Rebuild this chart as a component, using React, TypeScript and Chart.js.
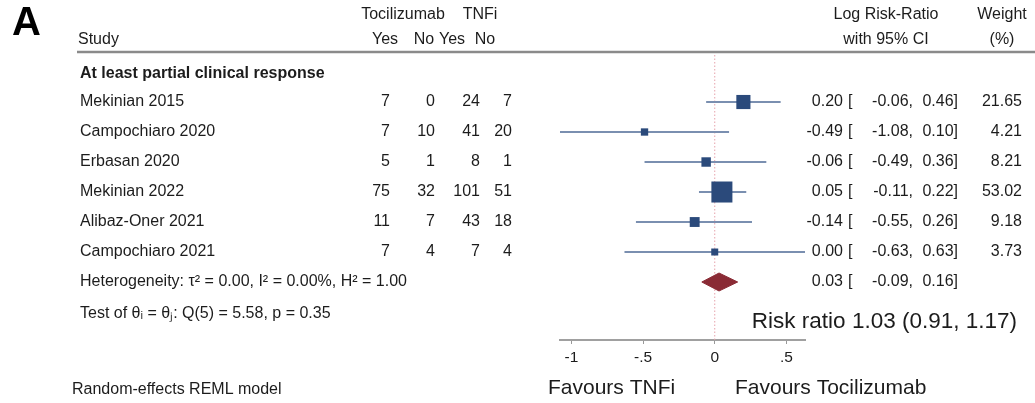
import React, { useEffect, useRef } from 'react';
import { Chart, registerables } from 'chart.js';

Chart.register(...registerables);

// ---------- data ----------
const studies = ['Mekinian 2015', 'Campochiaro 2020', 'Erbasan 2020', 'Mekinian 2022', 'Alibaz-Oner 2021', 'Campochiaro 2021'];
const tociYes = [7, 7, 5, 75, 11, 7];
const tociNo = [0, 10, 1, 32, 7, 4];
const tnfYes = [24, 41, 8, 101, 43, 7];
const tnfNo = [7, 20, 1, 51, 18, 4];
const logRR = [0.2, -0.49, -0.06, 0.05, -0.14, 0.0];
const lowerCI = [-0.06, -1.08, -0.49, -0.11, -0.55, -0.63];
const upperCI = [0.46, 0.1, 0.36, 0.22, 0.26, 0.63];
const weights = [21.65, 4.21, 8.21, 53.02, 9.18, 3.73];
const overall = { est: 0.03, lo: -0.09, hi: 0.16 };
const overallRR = { est: 1.03, lo: 0.91, hi: 1.17 };
const xTickValues = [-1, -0.5, 0, 0.5];
const xTickLabels = ['-1', '-.5', '0', '.5'];
const nullValue = 0;

const FONT = '"Liberation Sans", Arial, Helvetica, sans-serif';
const TEXT = '#1c1c1c';
const BODY = 16;
const overallRow = studies.length;

const fmt = (v: number) => v.toFixed(2);

const textPlugin = {
  id: 'forestText',
  beforeDatasetsDraw(chart: any) {
    const { ctx, chartArea, scales } = chart;
    const xp = scales.x.getPixelForValue(nullValue);
    ctx.save();
    ctx.strokeStyle = '#e6a2ac';
    ctx.lineWidth = 1;
    ctx.setLineDash([1.5, 2]);
    ctx.beginPath();
    ctx.moveTo(xp, chartArea.top);
    ctx.lineTo(xp, chartArea.bottom);
    ctx.stroke();
    ctx.restore();
  },
  afterDraw(chart: any) {
    const { ctx, scales } = chart;
    const y = scales.y;
    ctx.save();
    ctx.fillStyle = TEXT;
    ctx.textBaseline = 'middle';

    // Panel letter
    ctx.font = `bold 40px ${FONT}`;
    ctx.fillStyle = '#000';
    ctx.textAlign = 'left';
    ctx.fillText('A', 12, 24);
    ctx.fillStyle = TEXT;

    // Headers
    ctx.font = `${BODY}px ${FONT}`;
    ctx.textAlign = 'center';
    ctx.fillText('Tocilizumab', 403, 15);
    ctx.fillText('TNFi', 480, 15);
    ctx.fillText('Yes', 385, 40);
    ctx.fillText('No', 424, 40);
    ctx.fillText('Yes', 452, 40);
    ctx.fillText('No', 485, 40);
    ctx.fillText('Log Risk-Ratio', 886, 15);
    ctx.fillText('with 95% CI', 886, 40);
    ctx.fillText('Weight', 1002, 15);
    ctx.fillText('(%)', 1002, 40);
    ctx.textAlign = 'left';
    ctx.fillText('Study', 78, 40);

    // header rule
    ctx.strokeStyle = '#8a8a8a';
    ctx.lineWidth = 2.5;
    ctx.beginPath();
    ctx.moveTo(77, 52);
    ctx.lineTo(1035, 52);
    ctx.stroke();

    // group title
    ctx.font = `bold ${BODY}px ${FONT}`;
    ctx.fillText('At least partial clinical response', 80, y.getPixelForValue(-1) + 2);

    ctx.font = `${BODY}px ${FONT}`;
    const ciText = (est: number, lo: number, hi: number, yy: number) => {
      ctx.textAlign = 'right';
      ctx.fillText(fmt(est), 843, yy);
      ctx.textAlign = 'left';
      ctx.fillText('[', 848, yy);
      ctx.textAlign = 'right';
      ctx.fillText(fmt(lo) + ',', 913, yy);
      ctx.fillText(fmt(hi) + ']', 958, yy);
    };
    studies.forEach((s, i) => {
      const yy = y.getPixelForValue(i);
      ctx.textAlign = 'left';
      ctx.fillText(s, 80, yy);
      ctx.textAlign = 'right';
      ctx.fillText(String(tociYes[i]), 390, yy);
      ctx.fillText(String(tociNo[i]), 435, yy);
      ctx.fillText(String(tnfYes[i]), 480, yy);
      ctx.fillText(String(tnfNo[i]), 512, yy);
      ciText(logRR[i], lowerCI[i], upperCI[i], yy);
      ctx.textAlign = 'right';
      ctx.fillText(weights[i].toFixed(2), 1022, yy);
    });

    const yo = y.getPixelForValue(overallRow);
    ctx.textAlign = 'left';
    ctx.fillText('Heterogeneity: \u03C4\u00B2 = 0.00, I\u00B2 = 0.00%, H\u00B2 = 1.00', 80, yo);
    ctx.fillText('Test of \u03B8\u1D62 = \u03B8\u2C7C: Q(5) = 5.58, p = 0.35', 80, yo + 32);
    ciText(overall.est, overall.lo, overall.hi, yo);

    ctx.font = `22.5px ${FONT}`;
    ctx.textAlign = 'right';
    ctx.fillText(`Risk ratio ${fmt(overallRR.est)} (${fmt(overallRR.lo)}, ${fmt(overallRR.hi)})`, 1017, 322);

    ctx.font = `16px ${FONT}`;
    ctx.textAlign = 'left';
    ctx.fillText('Random-effects REML model', 72, 390);

    ctx.font = `21px ${FONT}`;
    ctx.fillText('Favours TNFi', 548, 388);
    ctx.fillText('Favours Tocilizumab', 735, 388);
    ctx.restore();
  },
};

export default function App() {
  const ref = useRef<HTMLCanvasElement>(null);
  useEffect(() => {
    const ciSets = studies.map((s, i) => ({
      type: 'line' as const,
      label: s + ' CI',
      data: [
        { x: lowerCI[i], y: i },
        { x: upperCI[i], y: i },
      ],
      borderColor: '#7a8fb0',
      borderWidth: 2,
      pointRadius: 0,
      fill: false,
      order: 2,
    }));
    const squares = {
      type: 'scatter' as const,
      label: 'Estimates',
      data: logRR.map((v, i) => ({ x: v, y: i })),
      pointStyle: 'rect',
      pointRadius: weights.map((w) => (1.94 + 2.62 * Math.sqrt(w)) / Math.SQRT2),
      backgroundColor: '#2b4a7b',
      borderColor: '#2b4a7b',
      borderWidth: 0,
      order: 0,
    };
    const h = 0.3;
    const diamond = {
      type: 'line' as const,
      label: 'Overall',
      data: [
        { x: overall.lo, y: overallRow },
        { x: overall.est, y: overallRow - h },
        { x: overall.hi, y: overallRow },
        { x: overall.est, y: overallRow + h },
        { x: overall.lo, y: overallRow },
      ],
      borderColor: '#8a2b35',
      backgroundColor: '#8a2b35',
      borderWidth: 1,
      pointRadius: 0,
      tension: 0,
      fill: 'shape',
      order: 1,
    };
    const chart = new Chart(ref.current as HTMLCanvasElement, {
      type: 'scatter',
      data: { datasets: [...ciSets, squares, diamond] as any },
      options: {
        responsive: false,
        animation: false,
        devicePixelRatio: 1,
        layout: { padding: { left: 560, right: 230, top: 55, bottom: 23 } },
        plugins: { legend: { display: false }, tooltip: { enabled: false } },
        scales: {
          x: {
            type: 'linear',
            min: Math.min(...lowerCI),
            max: Math.max(...upperCI),
            afterBuildTicks: (axis: any) => {
              axis.ticks = xTickValues.map((v) => ({ value: v }));
            },
            afterFit: (axis: any) => {
              axis.height = 40;
            },
            ticks: {
              callback: (_v: any, idx: number) => xTickLabels[idx],
              font: { family: FONT, size: 15.5 },
              color: TEXT,
              padding: 4,
              autoSkip: false,
              maxRotation: 0,
            },
            grid: { drawOnChartArea: false, drawTicks: true, tickLength: 4, color: '#999', lineWidth: 1 },
            border: { display: true, color: '#a0a0a0', width: 2 },
          },
          y: {
            type: 'linear',
            display: false,
            reverse: true,
            min: -1.567,
            max: 7.933,
          },
        },
      },
      plugins: [textPlugin],
    });
    return () => chart.destroy();
  }, []);
  return (
    <div style={{ position: 'fixed', left: 0, top: 0, width: 1035, height: 403, background: '#fff' }}>
      <canvas ref={ref} width={1035} height={403} style={{ display: 'block' }} />
    </div>
  );
}
